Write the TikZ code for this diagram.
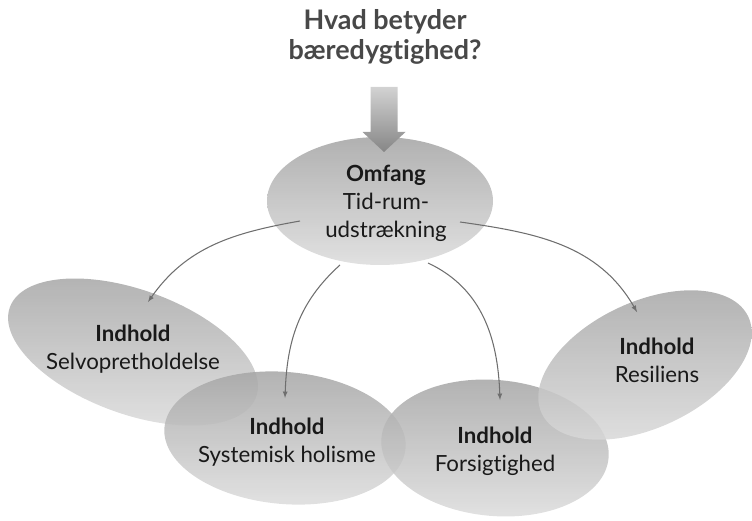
\documentclass[tikz,border=0pt]{standalone}
\usepackage{fontspec}
\setmainfont{Lato}[Ligatures={NoCommon,NoContextual}]
\usetikzlibrary{calc}
\definecolor{titlegray}{HTML}{484848}
\definecolor{linegray}{HTML}{6E6E6E}

\begin{document}
\begin{tikzpicture}[x=0.03cm, y=0.03cm, >=latex,
        bubble/.style={top color=gray!72, bottom color=gray!28, fill opacity=0.85},
        bubbletext/.style={align=center, text=black!90, font=\fontsize{19}{24}\selectfont},
        blockarrow/.style={top color=gray!35, bottom color=gray!95},
        link/.style={->, draw=linegray, line width=0.9pt}]
        \useasboundingbox (0,0) rectangle (752,520);

        \path[bubble] (380,319) ellipse [x radius=113, y radius=64];
        \path[bubble, rotate around={-20:(133,168)}] (133,168) ellipse [x radius=131, y radius=62];
        \path[bubble, rotate around={-5:(285,82)}] (285,82) ellipse [x radius=121, y radius=66];
        \path[bubble, rotate around={-5:(495,72)}] (495,72) ellipse [x radius=114, y radius=68];
        \path[bubble, rotate around={25:(645,155)}] (645,155) ellipse [x radius=114, y radius=63];

        \node (title) [align=center, text=titlegray, font=\bfseries\fontsize{23}{26}\selectfont] at (385,483) {Hvad betyder\\bæredygtighed?};
        \node (omfang) [bubbletext] at (386,317) {\textbf{Omfang}\\Tid-rum-\\udstrækning};
        \node (selv) [bubbletext] at (133,171) {\textbf{Indhold}\\Selvopretholdelse};
        \node (syst) [bubbletext] at (287,78) {\textbf{Indhold}\\Systemisk holisme};
        \node (fors) [bubbletext] at (495,69) {\textbf{Indhold}\\Forsigtighed};
        \node (resil) [bubbletext] at (657,160) {\textbf{Indhold}\\Resiliens};

        \coordinate (shafttop) at (384,433);
        \coordinate (tip) at (384,368);
        \path[blockarrow] ($(shafttop)+(-13.5,0)$) -- ($(shafttop)+(13.5,0)$) -- ($(tip)+(13.5,20)$)
            -- ($(tip)+(21.5,20)$) -- (tip) -- ($(tip)+(-21.5,20)$) -- ($(tip)+(-13.5,20)$) -- cycle;

        \draw[link] ($(omfang)+(-86,-18)$) to[out=190, in=55] ($(selv)+(15,47)$);
        \draw[link] ($(omfang)+(-46,-62)$) to[out=222, in=88] ($(syst)+(-2,44)$);
        \draw[link] ($(omfang)+(42,-60)$) to[out=-25, in=92] ($(fors)+(5,51)$);
        \draw[link] ($(omfang)+(74,-19)$) to[out=-8, in=120] ($(resil)+(-20,48)$);

        \end{tikzpicture}
\end{document}
